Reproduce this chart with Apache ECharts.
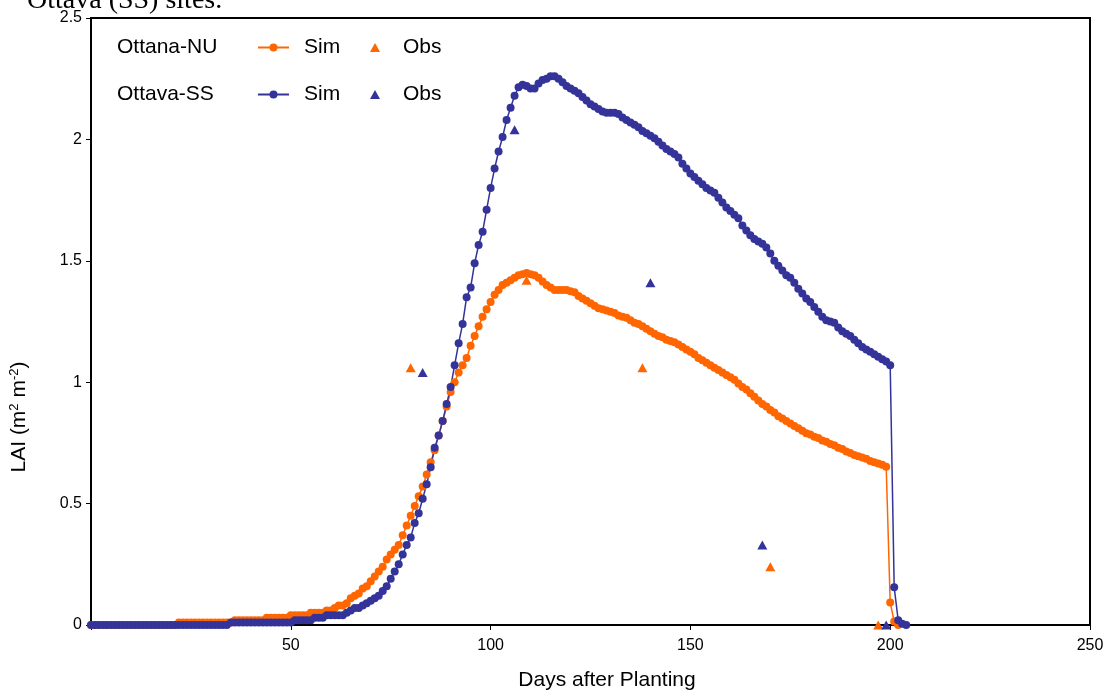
<!DOCTYPE html>
<html>
<head>
<meta charset="utf-8">
<script src="https://cdn.jsdelivr.net/npm/echarts@6/dist/echarts.min.js"></script>
<style>
  html, body { margin: 0; padding: 0; background: #ffffff; }
  #chart { width: 1108px; height: 691px; }
</style>
</head>
<body>
<div id="chart"></div>
<script>
// Simulated LAI, one value per day after planting, starting at day 0
const nuSim = [
  0,0,0,0,0,0,0,0,0,0, 0,0,0,0,0,0,0,0,0,0, 0,0,
  0.01,0.01,0.01,0.01,0.01,0.01,0.01,0.01,0.01,0.01,0.01,0.01,0.01,0.01,
  0.02,0.02,0.02,0.02,0.02,0.02,0.02,0.02,
  0.03,0.03,0.03,0.03,0.03,0.03,
  0.04,0.04,0.04,0.04,0.04,
  0.05,0.05,0.05,0.05,
  0.06,0.06,0.07,0.08,0.08,0.09,0.11,0.12,0.13,0.15,0.16,0.18,0.2,0.22,0.24,0.27,0.29,0.31,0.33,
  0.37,0.41,0.45,0.49,0.53,0.57,0.62,0.67,0.72,0.78,0.84,0.9,0.96,1.0,1.04,1.07,
  1.10,1.15,1.19,1.23,1.27,1.30,1.33,1.36,1.38,1.40,1.41,1.42,1.43,1.44,1.445,1.45,
  1.445,1.44,1.43,1.415,1.40,1.39,1.38,1.38,1.38,1.38,
  1.375,1.37,1.355,1.345,1.335,1.325,1.315,1.305,1.30,1.295,
  1.29,1.285,1.275,1.27,1.265,1.255,1.245,1.24,1.23,1.22,
  1.21,1.20,1.19,1.185,1.175,1.17,1.165,1.155,1.145,1.135,
  1.125,1.115,1.10,1.09,1.08,1.07,1.06,1.05,1.04,1.03,
  1.02,1.01,0.995,0.98,0.97,0.955,0.94,0.925,0.91,0.90,
  0.885,0.875,0.86,0.85,0.84,0.83,0.82,0.81,0.80,0.79,
  0.785,0.775,0.77,0.76,0.755,0.745,0.74,0.73,0.725,0.715,
  0.708,0.70,0.695,0.69,0.685,0.675,0.67,0.665,0.66,0.652,
  0.093,0.014,0
];

const ssSim = [
  0,0,0,0,0,0,0,0,0,0, 0,0,0,0,0,0,0,0,0,0, 0,0,0,0,0,0,0,0,0,0, 0,0,0,0,0,
  0.01,0.01,0.01,0.01,0.01,0.01,0.01,0.01,0.01,0.01,0.01,0.01,0.01,0.01,0.01,0.01,
  0.02,0.02,0.02,0.02,0.02,
  0.03,0.03,0.03,
  0.04,0.04,0.04,0.04,0.04,
  0.05,0.06,0.07,0.07,0.08,0.09,0.10,0.11,0.12,0.14,0.16,0.19,0.22,0.25,0.29,0.33,
  0.36,0.42,0.46,0.52,0.58,0.65,0.73,0.78,0.84,0.91,
  0.98,1.07,1.16,1.24,1.35,1.39,1.49,1.565,1.62,1.71,
  1.80,1.88,1.95,2.01,2.08,2.13,2.18,2.215,2.225,2.22,
  2.21,2.21,2.23,2.245,2.25,2.26,2.26,2.25,2.235,2.22,
  2.21,2.20,2.19,2.175,2.16,2.145,2.135,2.125,2.115,2.11,
  2.11,2.11,2.105,2.09,2.08,2.07,2.06,2.05,2.035,2.025,
  2.015,2.005,1.99,1.975,1.96,1.95,1.94,1.925,1.90,1.88,
  1.86,1.845,1.83,1.815,1.80,1.79,1.78,1.76,1.74,1.72,
  1.705,1.69,1.675,1.645,1.625,1.605,1.59,1.58,1.57,1.555,
  1.53,1.50,1.48,1.46,1.44,1.43,1.41,1.385,1.365,1.345,
  1.33,1.31,1.29,1.27,1.255,1.25,1.245,1.225,1.21,1.20,
  1.19,1.175,1.16,1.145,1.135,1.125,1.115,1.105,1.095,1.085,
  1.07,0.155,0.02,0.005,0
];

// Observed LAI: sampling day and value
const nuObsDays = [80, 109, 138, 170, 197];
const nuObsLai  = [1.06, 1.42, 1.06, 0.24, 0];
const ssObsDays = [83, 106, 140, 168, 199];
const ssObsLai  = [1.04, 2.04, 1.41, 0.33, 0];

// Axis ticks
const xTicks = [50, 100, 150, 200, 250];
const yTicks = [0, 0.5, 1, 1.5, 2, 2.5];

const ORANGE = '#FF6600';
const BLUE = '#333399';
const SANS = '"Liberation Sans", Arial, sans-serif';

const daily = vals => vals.map((v, d) => [d, v]);
const pairs = (xs, ys) => xs.map((x, i) => [x, ys[i]]);

const chart = echarts.init(document.getElementById('chart'), null, { renderer: 'canvas' });

const legendBase = {
  orient: 'horizontal',
  textStyle: { fontSize: 21, fontFamily: SANS, color: '#000' },
  formatter: name => name.split(' ')[1],
  selectedMode: false,
  padding: 0
};

chart.setOption({
  animation: false,
  backgroundColor: '#ffffff',
  grid: {
    left: 91, right: 18, top: 18, bottom: 66,
    show: true, borderColor: '#000', borderWidth: 2
  },
  xAxis: {
    type: 'value',
    min: 0, max: 250, interval: 50,
    axisLine: { show: true, lineStyle: { color: '#000', width: 2 } },
    axisTick: { show: true, length: 5, lineStyle: { color: '#000', width: 1 } },
    axisLabel: {
      fontSize: 16, fontFamily: SANS, color: '#000', margin: 13,
      formatter: v => (xTicks.includes(v) ? String(v) : '')
    },
    splitLine: { show: false }
  },
  yAxis: {
    type: 'value',
    min: 0, max: 2.5, interval: 0.5,
    axisLine: { show: true, lineStyle: { color: '#000', width: 2 } },
    axisTick: { show: true, length: 5, lineStyle: { color: '#000', width: 1 } },
    axisLabel: {
      fontSize: 16, fontFamily: SANS, color: '#000', margin: 9,
      formatter: v => (yTicks.includes(v) ? String(v) : '')
    },
    splitLine: { show: false }
  },
  legend: [
    Object.assign({}, legendBase, {
      left: 257, top: 37, itemWidth: 31, itemHeight: 10,
      data: ['Ottana-NU Sim'],
      textStyle: Object.assign({}, legendBase.textStyle, { padding: [0, 0, 0, 10] })
    }),
    Object.assign({}, legendBase, {
      left: 370, top: 37, itemWidth: 10, itemHeight: 9,
      data: [{ name: 'Ottana-NU Obs', icon: 'triangle' }],
      textStyle: Object.assign({}, legendBase.textStyle, { padding: [0, 0, 0, 18] })
    }),
    Object.assign({}, legendBase, {
      left: 257, top: 84, itemWidth: 31, itemHeight: 10,
      data: ['Ottava-SS Sim'],
      textStyle: Object.assign({}, legendBase.textStyle, { padding: [0, 0, 0, 10] })
    }),
    Object.assign({}, legendBase, {
      left: 370, top: 84, itemWidth: 10, itemHeight: 9,
      data: [{ name: 'Ottava-SS Obs', icon: 'triangle' }],
      textStyle: Object.assign({}, legendBase.textStyle, { padding: [0, 0, 0, 18] })
    })
  ],
  graphic: [
    {
      type: 'text', left: 27, top: -13, z: 10,
      style: { text: 'Ottava (SS) sites.', font: '28px "Liberation Serif", "Times New Roman", serif', fill: '#000' }
    },
    {
      type: 'text', x: 117, y: 47,
      style: { text: 'Ottana-NU', font: '21px ' + SANS, fill: '#000', verticalAlign: 'middle' }
    },
    {
      type: 'text', x: 117, y: 94,
      style: { text: 'Ottava-SS', font: '21px ' + SANS, fill: '#000', verticalAlign: 'middle' }
    },
    {
      type: 'text', x: 607, y: 680,
      style: { text: 'Days after Planting', font: '21px ' + SANS, fill: '#000', align: 'center', verticalAlign: 'middle' }
    },
    {
      type: 'text', x: 19, y: 417, rotation: Math.PI / 2,
      style: {
        text: '{b|LAI (m}{s|2}{b| m}{s|-2}{b|)}',
        align: 'center', verticalAlign: 'middle',
        rich: {
          b: { fontSize: 21, fontFamily: SANS, color: '#000' },
          s: { fontSize: 13, fontFamily: SANS, color: '#000', verticalAlign: 'top', padding: [0, 0, 10, 0] }
        }
      }
    }
  ],
  series: [
    {
      name: 'Ottana-NU Sim', type: 'line', data: daily(nuSim), clip: false,
      symbol: 'circle', symbolSize: 8, showSymbol: true,
      itemStyle: { color: ORANGE }, lineStyle: { color: ORANGE, width: 1.5 }
    },
    {
      name: 'Ottana-NU Obs', type: 'scatter', data: pairs(nuObsDays, nuObsLai), clip: false,
      symbol: 'triangle', symbolSize: [10, 9], itemStyle: { color: ORANGE, opacity: 1 }
    },
    {
      name: 'Ottava-SS Sim', type: 'line', data: daily(ssSim), clip: false,
      symbol: 'circle', symbolSize: 8, showSymbol: true,
      itemStyle: { color: BLUE }, lineStyle: { color: BLUE, width: 1.5 }
    },
    {
      name: 'Ottava-SS Obs', type: 'scatter', data: pairs(ssObsDays, ssObsLai), clip: false,
      symbol: 'triangle', symbolSize: [10, 9], itemStyle: { color: BLUE, opacity: 1 }
    }
  ]
});
</script>
</body>
</html>
